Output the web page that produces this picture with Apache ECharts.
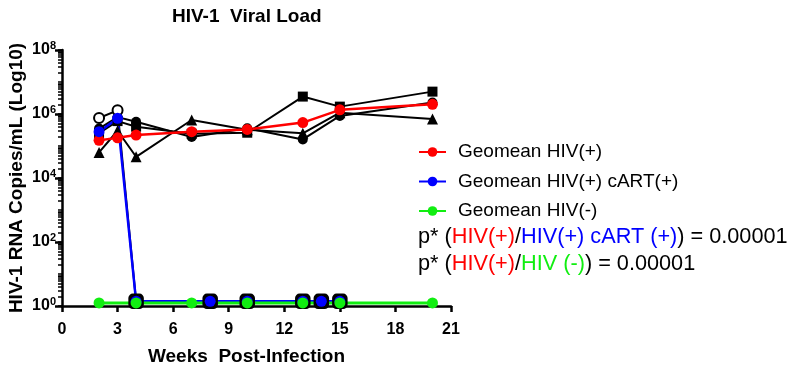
<!DOCTYPE html>
<html>
<head>
<meta charset="utf-8">
<script src="https://cdn.jsdelivr.net/npm/echarts@6/dist/echarts.min.js"></script>
<style>
html,body{margin:0;padding:0;background:#fff;}
#chart{width:797px;height:371px;}
</style>
</head>
<body>
<div id="chart"></div>
<script>
// ---- data ----
const weeksHIV = [2, 3, 4, 7, 10, 13, 15, 20];
const animalCircle   = [3.5e5, 8.0e5, 5.7e5, 1.9e5, 3.6e5, 1.6e5, 8.7e5, 2.3e6];
const animalSquare   = [2.5e5, 6.0e5, 4.0e5, 2.4e5, 2.6e5, 3.5e6, 1.7e6, 5.0e6];
const animalTriangle = [6.3e4, 3.0e5, 4.6e4, 6.5e5, 3.2e5, 2.5e5, 1.1e6, 7.0e5];
const geomeanHIV     = [1.5e5, 1.8e5, 2.2e5, 2.8e5, 3.3e5, 5.4e5, 1.35e6, 2.0e6];

const weeksCART = [2, 3, 4, 8, 10, 13, 14, 15];
const cartAnimal  = [7.5e5, 1.3e6, 1.4, 1.4, 1.4, 1.4, 1.4, 1.4];
const geomeanCART = [2.8e5, 7.3e5, 1.4, 1.4, 1.4, 1.4, 1.4, 1.4];

const weeksNeg = [2, 4, 7, 10, 13, 15, 20];
const geomeanNeg = [1.25, 1.25, 1.25, 1.25, 1.25, 1.25, 1.25];

const xTickValues = [0, 3, 6, 9, 12, 15, 18, 21];
const yTickExponents = [0, 2, 4, 6, 8];

const legendNames = ['Geomean HIV(+)', 'Geomean HIV(+) cART(+)', 'Geomean HIV(-)'];
const titleText = 'HIV-1  Viral Load';
const xName = 'Weeks  Post-Infection';
const yName = 'HIV-1 RNA Copies/mL (Log10)';

// ---- helpers ----
const pairs = (xs, ys) => xs.map((x, i) => [x, ys[i]]);
const minorLogTicks = [];
for (let e = 0; e < 8; e++) {
  for (let k = 1; k <= 9; k++) minorLogTicks.push(k * Math.pow(10, e));
}
minorLogTicks.push(1e8);

const FONT = 'Arial, "Liberation Sans", Helvetica, sans-serif';
const RED = '#ff0000', BLUE = '#0000ff', GREEN = '#11ee11', BLACK = '#000000';

const cartData = pairs(weeksCART, cartAnimal).map((p, i) =>
  i < 2 ? { value: p, symbol: 'emptyCircle', symbolSize: 10 } : { value: p });

const chart = echarts.init(document.getElementById('chart'), null, { renderer: 'canvas' });
chart.setOption({
  animation: false,
  backgroundColor: '#ffffff',
  textStyle: { fontFamily: FONT },
  title: {
    text: titleText,
    left: 167, top: 2,
    textStyle: { fontFamily: FONT, fontSize: 19, fontWeight: 'bold', color: '#000' }
  },
  grid: { left: 62, right: 346, top: 50, bottom: 65, containLabel: false },
  legend: {
    data: legendNames,
    orient: 'vertical',
    left: 413, top: 137,
    itemWidth: 27, itemHeight: 12, itemGap: 9.5,
    textStyle: { fontFamily: FONT, fontSize: 19, color: '#000', lineHeight: 20, padding: [0, 0, 0, 7] }
  },
  xAxis: {
    type: 'value', min: 0, max: 21, interval: 3,
    name: xName, nameLocation: 'middle', nameGap: 41,
    nameTextStyle: { fontFamily: FONT, fontSize: 19, fontWeight: 'bold', color: '#000', padding: [0, 20, 0, 0] },
    axisLine: { show: true, onZero: false, lineStyle: { color: '#000', width: 2.5 } },
    axisTick: { show: true, inside: false, length: 6, lineStyle: { color: '#000', width: 2.5 } },
    axisLabel: {
      margin: 16, fontFamily: FONT, fontSize: 16, fontWeight: 'bold', color: '#000',
      customValues: xTickValues
    },
    splitLine: { show: false }
  },
  yAxis: [{
    type: 'log', logBase: 10, min: 1, max: 1e8, interval: 2,
    name: yName, nameLocation: 'middle', nameGap: 36, nameRotate: 90,
    nameTextStyle: { fontFamily: FONT, fontSize: 19, fontWeight: 'bold', color: '#000' },
    axisLine: { show: true, lineStyle: { color: '#000', width: 2.5 } },
    axisTick: { show: true, inside: false, length: 7, lineStyle: { color: '#000', width: 2.5 } },
    axisLabel: {
      margin: 6,
      formatter: v => '{b|10}{s|' + Math.round(Math.log10(v)) + '}',
      rich: {
        b: { fontFamily: FONT, fontSize: 16, fontWeight: 'bold', color: '#000' },
        s: { fontFamily: FONT, fontSize: 11, fontWeight: 'bold', color: '#000', padding: [0, 0, 9, 0] }
      }
    },
    splitLine: { show: false }
  }, {
    type: 'log', logBase: 10, min: 1, max: 1e8, position: 'left', offset: 0,
    axisLine: { show: false },
    axisTick: { show: true, inside: false, length: 4, lineStyle: { color: '#000', width: 1.5 }, customValues: minorLogTicks },
    axisLabel: { show: false },
    splitLine: { show: false }
  }],
  series: [
    { name: 'Animal 3', type: 'line', data: pairs(weeksHIV, animalTriangle), symbol: 'triangle', symbolSize: 11,
      lineStyle: { color: BLACK, width: 2 }, itemStyle: { color: BLACK } },
    { name: 'Animal 2', type: 'line', data: pairs(weeksHIV, animalSquare), symbol: 'rect', symbolSize: 10,
      lineStyle: { color: BLACK, width: 2 }, itemStyle: { color: BLACK } },
    { name: 'Animal 1', type: 'line', data: pairs(weeksHIV, animalCircle), symbol: 'circle', symbolSize: 10,
      lineStyle: { color: BLACK, width: 2 }, itemStyle: { color: BLACK } },
    { name: 'cART animal', type: 'line', data: cartData, symbol: 'roundRect', symbolSize: 13,
      lineStyle: { color: BLACK, width: 2 }, itemStyle: { color: BLACK, borderColor: BLACK, borderWidth: 2.5 } },
    { name: legendNames[0], type: 'line', data: pairs(weeksHIV, geomeanHIV), symbol: 'circle', symbolSize: 11,
      lineStyle: { color: RED, width: 2.5 }, itemStyle: { color: RED } },
    { name: legendNames[1], type: 'line', data: pairs(weeksCART, geomeanCART), symbol: 'circle', symbolSize: 11,
      lineStyle: { color: BLUE, width: 2.5 }, itemStyle: { color: BLUE } },
    { name: legendNames[2], type: 'line', data: pairs(weeksNeg, geomeanNeg), symbol: 'circle', symbolSize: 11,
      lineStyle: { color: GREEN, width: 3 }, itemStyle: { color: GREEN } }
  ],
  graphic: [
    { type: 'text', left: 418, top: 226,
      style: {
        text: 'p* ({r|HIV(+)}/{bl|HIV(+) cART (+)}) = 0.00001',
        font: '21.7px ' + FONT, fill: '#000',
        rich: { r: { fill: RED, fontSize: 21.7, fontFamily: FONT }, bl: { fill: BLUE, fontSize: 21.7, fontFamily: FONT } }
      } },
    { type: 'text', left: 418, top: 253,
      style: {
        text: 'p* ({r|HIV(+)}/{g|HIV (-)}) = 0.00001',
        font: '21.7px ' + FONT, fill: '#000',
        rich: { r: { fill: RED, fontSize: 21.7, fontFamily: FONT }, g: { fill: GREEN, fontSize: 21.7, fontFamily: FONT } }
      } }
  ]
});
</script>
</body>
</html>
